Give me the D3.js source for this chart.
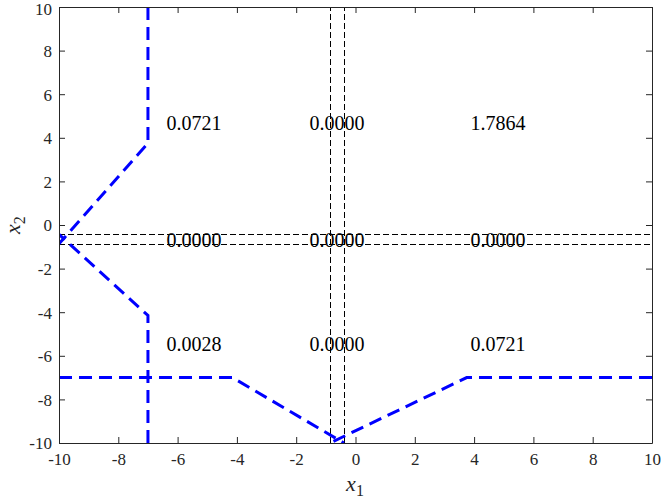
<!DOCTYPE html>
<html>
<head>
<meta charset="utf-8">
<script src="https://cdn.jsdelivr.net/npm/d3@7"></script>
<style>
  html, body { margin: 0; padding: 0; background: #fff; }
  svg { display: block; }
  text { font-family: "Liberation Serif", "Times New Roman", serif; }
</style>
</head>
<body>
<svg id="chart" width="664" height="499"></svg>
<script>
// ---- data ----
const xDomain = [-10, 10];
const yDomain = [-10, 10];
const xTicks = [-10, -8, -6, -4, -2, 0, 2, 4, 6, 8, 10];
const yTicks = [-10, -8, -6, -4, -2, 0, 2, 4, 6, 8, 10];
// boundary thresholds (black dashed lines)
const vLines = [-0.86, -0.39];
const hLines = [-0.43, -0.86];
// blue dashed boundary curves
const curveA = [[-7, 10], [-7, 3.75], [-10, -0.86]];
const curveB = [[-7, -10], [-7, -4.15], [-10, -0.43]];
const curveC = [[-10, -7], [-4.15, -7], [-0.39, -10]];
const curveD = [[10, -7], [3.75, -7], [-0.86, -10]];
const curves = [curveA, curveB, curveC, curveD];
// region labels
const labelX = [-5.45, -0.62, 4.81];
const labelY = [4.7, -0.7, -5.47];
const labelText = [
  ["0.0721", "0.0000", "1.7864"],
  ["0.0000", "0.0000", "0.0000"],
  ["0.0028", "0.0000", "0.0721"]
];

// ---- layout ----
const svg = d3.select("#chart");
const m = { left: 59, top: 7, right: 652, bottom: 443 };
const x = d3.scaleLinear().domain(xDomain).range([m.left, m.right]);
const y = d3.scaleLinear().domain(yDomain).range([m.bottom, m.top]);
const axisColor = "#262626";
const font = "Liberation Serif";

svg.append("defs").append("clipPath").attr("id", "clip")
  .append("rect").attr("x", m.left).attr("y", m.top)
  .attr("width", m.right - m.left).attr("height", m.bottom - m.top);

const plot = svg.append("g").attr("clip-path", "url(#clip)");

// black dashed threshold lines
plot.selectAll(".vline").data(vLines).enter().append("line")
  .attr("x1", d => Math.round(x(d)) + 0.5).attr("x2", d => Math.round(x(d)) + 0.5)
  .attr("y1", y(yDomain[0])).attr("y2", y(yDomain[1]))
  .attr("stroke", "#000").attr("stroke-width", 1).attr("stroke-dasharray", "6,3");
plot.selectAll(".hline").data(hLines).enter().append("line")
  .attr("y1", d => Math.round(y(d)) + 0.5).attr("y2", d => Math.round(y(d)) + 0.5)
  .attr("x1", x(xDomain[0])).attr("x2", x(xDomain[1]))
  .attr("stroke", "#000").attr("stroke-width", 1).attr("stroke-dasharray", "6,3");

// labels
labelText.forEach((row, i) => {
  row.forEach((t, j) => {
    svg.append("text")
      .attr("x", x(labelX[j])).attr("y", y(labelY[i]))
      .attr("text-anchor", "middle").attr("dominant-baseline", "central")
      .style("font-family", font).style("font-size", "20px").attr("fill", "#000")
      .text(t);
  });
});

// blue curves
const line = d3.line().x(d => x(d[0])).y(d => y(d[1]));
plot.selectAll(".curve").data(curves).enter().append("path")
  .attr("d", line).attr("fill", "none")
  .attr("stroke", "#0000ff").attr("stroke-width", 3)
  .attr("stroke-dasharray", "13,7");

// axes
const tickLen = 6;
const xAxisB = d3.axisBottom(x).tickValues(xTicks).tickSizeInner(-tickLen).tickSizeOuter(0).tickPadding(10).tickFormat(d3.format("d"));
const xAxisT = d3.axisTop(x).tickValues(xTicks).tickSizeInner(-tickLen).tickSizeOuter(0).tickFormat("");
const yAxisL = d3.axisLeft(y).tickValues(yTicks).tickSizeInner(-tickLen).tickSizeOuter(0).tickPadding(7).tickFormat(d3.format("d"));
const yAxisR = d3.axisRight(y).tickValues(yTicks).tickSizeInner(-tickLen).tickSizeOuter(0).tickFormat("");

function styleAxis(g) {
  g.attr("font-family", null).attr("font-size", null);
  g.selectAll("path").attr("stroke", axisColor).attr("stroke-width", 1);
  g.selectAll("line").attr("stroke", axisColor).attr("stroke-width", 1);
  g.selectAll("text").style("font-family", font).style("font-size", "17px").attr("fill", axisColor);
}
const fmt = d => String(d).replace("\u2212", "-");
svg.append("g").attr("transform", `translate(0,${m.bottom})`).call(xAxisB).call(styleAxis)
  .selectAll("text").text(fmt);
svg.append("g").attr("transform", `translate(0,${m.top})`).call(xAxisT).call(styleAxis);
const gy = svg.append("g").attr("transform", `translate(${m.left},0)`).call(yAxisL).call(styleAxis);
gy.selectAll("text").text(fmt).attr("dy", "0.35em");
gy.selectAll(".tick").filter(d => d === 10).select("text").attr("dy", "0.45em");
svg.append("g").attr("transform", `translate(${m.right},0)`).call(yAxisR).call(styleAxis);

// axis labels
const xl = svg.append("text").attr("x", 355).attr("y", 491)
  .attr("text-anchor", "middle").style("font-family", font).style("font-size", "22px").attr("fill", axisColor);
xl.append("tspan").attr("font-style", "italic").text("x");
xl.append("tspan").style("font-size", "16px").attr("dy", 5).text("1");

const yl = svg.append("text").attr("transform", "translate(20,225) rotate(-90)")
  .attr("text-anchor", "middle").style("font-family", font).style("font-size", "22px").attr("fill", axisColor);
yl.append("tspan").attr("font-style", "italic").text("x");
yl.append("tspan").style("font-size", "16px").attr("dy", 5).text("2");
</script>
</body>
</html>
